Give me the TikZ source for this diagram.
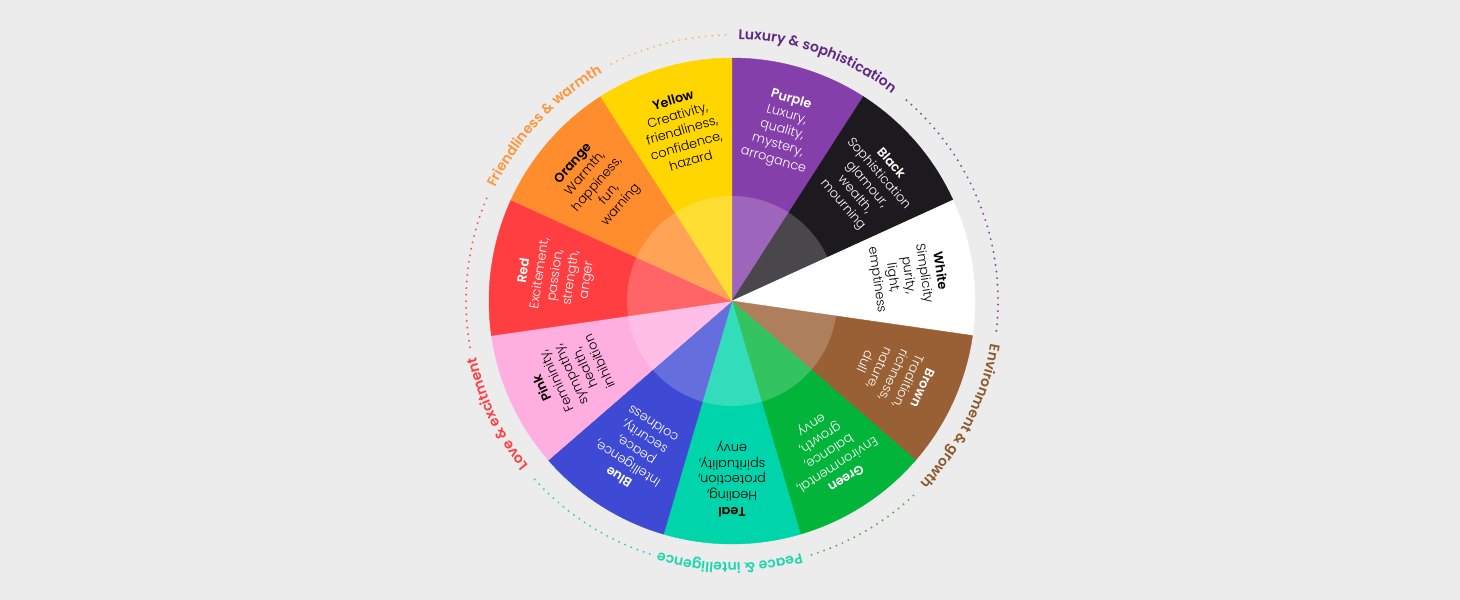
\documentclass[tikz,border=0pt]{standalone}
\usepackage{fontspec}
\setmainfont{Poppins Light}[BoldFont={Poppins SemiBold}]
\newfontfamily\ringfam{Poppins SemiBold}
\usetikzlibrary{decorations.text}

\definecolor{bgc}{RGB}{236,236,236}
\definecolor{cpurple}{RGB}{133,63,170}
\definecolor{cblack}{RGB}{28,26,31}
\definecolor{cwhite}{RGB}{255,255,255}
\definecolor{cbrown}{RGB}{154,96,53}
\definecolor{cgreen}{RGB}{2,180,58}
\definecolor{cteal}{RGB}{0,212,170}
\definecolor{cblue}{RGB}{62,74,212}
\definecolor{cpink}{RGB}{255,174,224}
\definecolor{cred}{RGB}{255,62,66}
\definecolor{corange}{RGB}{255,140,45}
\definecolor{cyellow}{RGB}{255,214,0}
\definecolor{tlux}{RGB}{95,40,130}
\definecolor{tenv}{RGB}{140,90,45}
\definecolor{tpeace}{RGB}{30,215,175}
\definecolor{tlove}{RGB}{255,64,64}
\definecolor{tfriend}{RGB}{255,150,60}
\definecolor{dorange}{RGB}{250,185,110}
\definecolor{dpurple}{RGB}{130,80,160}
\definecolor{dgreen}{RGB}{125,150,120}
\definecolor{dteal}{RGB}{60,205,200}
\definecolor{dred}{RGB}{250,90,90}

\newcommand\ringtxt{\ringfam\fontsize{14}{17}\selectfont}

\tikzset{
  wedge/.style={line width=0.4pt},
  lbl/.style={align=center, font=\fontsize{12.8}{15.8}\selectfont, inner sep=0pt},
  dots/.style={line width=2.2pt, line cap=round, dash pattern=on 0pt off 6.6pt},
  ringlabel/.style={decorate, decoration={text along path, text align=center, text={#1}}}
}

\begin{document}
\begin{tikzpicture}
    \fill[bgc] (-732pt,-299pt) rectangle (728pt,301pt);
    \useasboundingbox (-732pt,-299pt) rectangle (728pt,301pt);
    \coordinate (hub) at (0,0);

    % colour wedges with their labels
    \foreach \i/\fc/\tc/\ttl/\txt in {
        0/cpurple/white/Purple/{Luxury,\\quality,\\mystery,\\arrogance},
        1/cblack/white/Black/{Sophistication\\glamour,\\wealth,\\mourning},
        2/cwhite/black/White/{Simplicity\\purity,\\light,\\emptiness},
        3/cbrown/white/Brown/{Tradition,\\richness,\\nature,\\dull},
        4/cgreen/white/Green/{Environmental,\\balance,\\growth,\\envy},
        5/cteal/black/Teal/{Healing,\\protection,\\spirituality,\\envy},
        6/cblue/white/Blue/{Intelligence,\\peace,\\security,\\coldness},
        7/cpink/black/Pink/{Femininity,\\sympathy,\\health,\\inhibition},
        8/cred/white/Red/{Excitement,\\passion,\\strength,\\anger},
        9/corange/black/Orange/{Warmth,\\happiness,\\fun,\\warning},
        10/cyellow/black/Yellow/{Creativity,\\friendliness,\\confidence,\\hazard}}{
        \pgfmathsetmacro\a{90-\i*360/11}
        \pgfmathsetmacro\b{\a-360/11}
        \pgfmathsetmacro\m{\a-180/11}
        \filldraw[wedge, fill=\fc, draw=\fc] (hub) -- (\a:243pt)
            arc[start angle=\a, end angle=\b, radius=243pt] -- cycle;
        \node[lbl, text=\tc, rotate=\m-90] (seg\i) at (\m:178pt) {\textbf{\ttl}\\\txt};
    }

    % light centre
    \fill[white, opacity=0.2] (hub) circle[radius=105pt];

    % dotted ring
    \draw[dots, dorange] (117:266pt) arc[start angle=117, end angle=91, radius=266pt];
    \draw[dots, dpurple] (49:266pt) arc[start angle=49, end angle=-7, radius=266pt];
    \draw[dots, dgreen] (-47:266pt) arc[start angle=-47, end angle=-74, radius=266pt];
    \draw[dots, dteal] (-108:266pt) arc[start angle=-108, end angle=-138, radius=266pt];
    \draw[dots, dred] (-170:266pt) arc[start angle=-170, end angle=-203, radius=266pt];

    % ring titles
    \path[ringlabel={|\ringtxt\color{tlux}|Luxury {\&} sophistication}]
        (100.5:262pt) arc[start angle=100.5, end angle=40.5, radius=262pt];
    \path[ringlabel={|\ringtxt\color{tenv}|Environment {\&} growth}]
        (3.2:262pt) arc[start angle=3.2, end angle=-56.8, radius=262pt];
    \path[ringlabel={|\ringtxt\color{tpeace}|Peace {\&} intelligence}]
        (-60.5:262pt) arc[start angle=-60.5, end angle=-120.5, radius=262pt];
    \path[ringlabel={|\ringtxt\color{tlove}|Love {\&} excitment}]
        (-124.3:262pt) arc[start angle=-124.3, end angle=-184.3, radius=262pt];
    \path[ringlabel={|\ringtxt\color{tfriend}|Friendliness {\&} warmth}]
        (167:262pt) arc[start angle=167, end angle=107, radius=262pt];
\end{tikzpicture}
\end{document}
